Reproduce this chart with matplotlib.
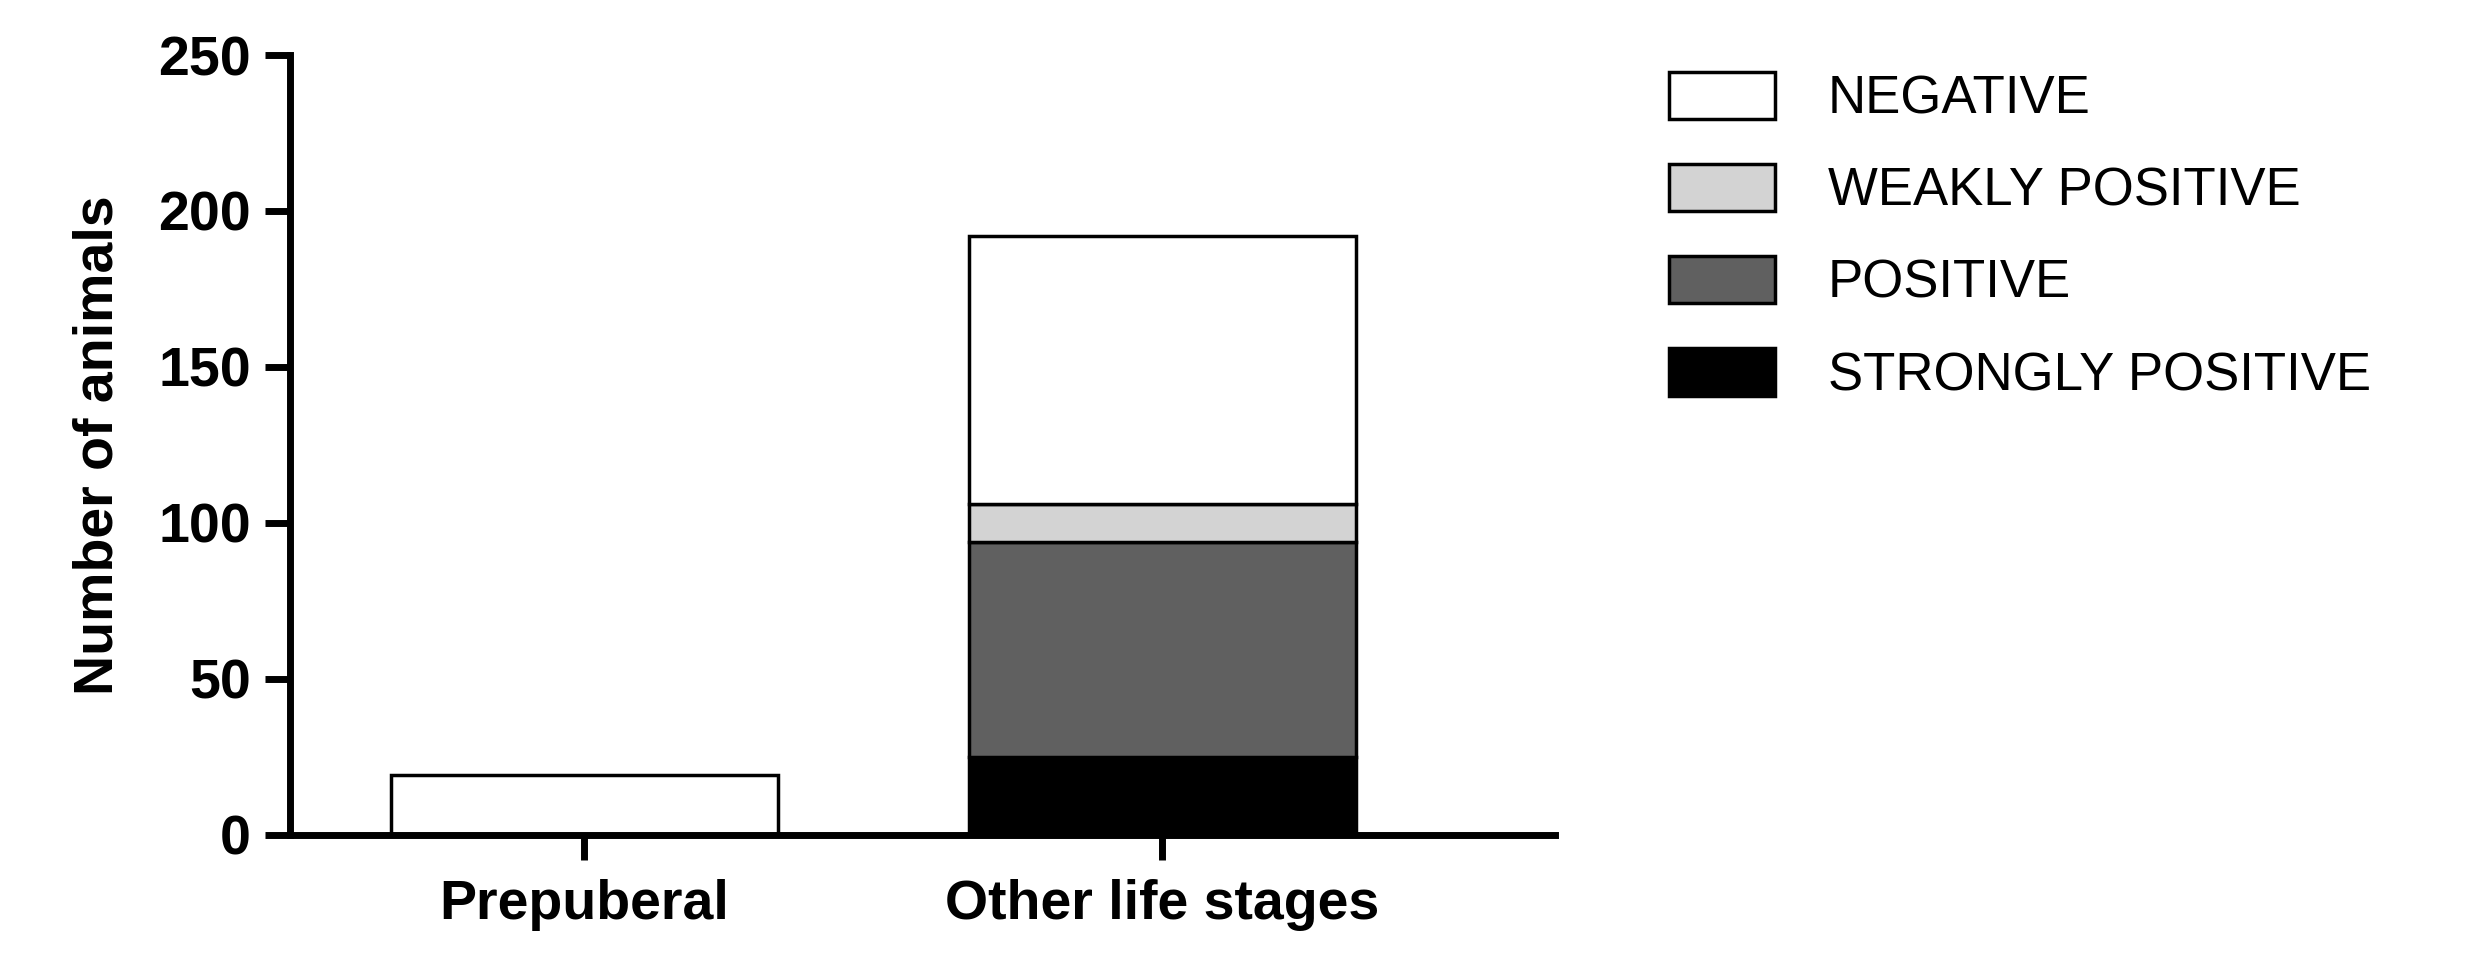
import matplotlib
matplotlib.use("Agg")
import matplotlib.pyplot as plt
from matplotlib.patches import Patch

plt.rcParams['font.family'] = ['Liberation Sans', 'DejaVu Sans']

categories = ["Prepuberal", "Other life stages"]
strongly_positive = [0, 25]
positive = [0, 69]
weakly_positive = [0, 12]
negative = [19, 86]
series_names = ["NEGATIVE", "WEAKLY POSITIVE", "POSITIVE", "STRONGLY POSITIVE"]
yticks = [0, 50, 100, 150, 200, 250]

fig = plt.figure(figsize=(24.76, 9.65), dpi=100)
ax = fig.add_axes([0.117, 0.135, 0.511, 0.808])
x = [0, 1]
w = 0.67
lw = 2.5
bottom = [0, 0]
layers = [(strongly_positive, "#000000"), (positive, "#606060"),
          (weakly_positive, "#d3d3d3"), (negative, "#ffffff")]
for vals, col in layers:
    ax.bar(x, vals, w, bottom=bottom, color=col, edgecolor="black", linewidth=lw)
    bottom = [b + v for b, v in zip(bottom, vals)]

ax.set_xlim(-0.51, 1.68)
ax.set_ylim(0, 250)
ax.set_yticks(yticks)
ax.set_xticks(x)
ax.set_xticklabels(categories, fontsize=40, fontweight="bold")
ax.tick_params(axis='y', labelsize=40, width=5, length=18, pad=10)
ax.tick_params(axis='x', width=5, length=18, pad=14)
for t in ax.get_yticklabels():
    t.set_fontweight("bold")
ax.set_ylabel("Number of animals", fontsize=40, fontweight="bold", labelpad=24)
for s in ["top", "right"]:
    ax.spines[s].set_visible(False)
for s in ["left", "bottom"]:
    ax.spines[s].set_linewidth(5)

colors = ["#ffffff", "#d3d3d3", "#606060", "#000000"]
handles = [Patch(facecolor=c, edgecolor="black", linewidth=2.5) for c in colors]
fig.legend(handles, series_names, loc="upper left", bbox_to_anchor=(0.655, 0.975),
           frameon=False, fontsize=38, handlelength=2.0, handleheight=1.0,
           labelspacing=0.75, handletextpad=1.0)

fig.savefig("out.png", dpi=100)
